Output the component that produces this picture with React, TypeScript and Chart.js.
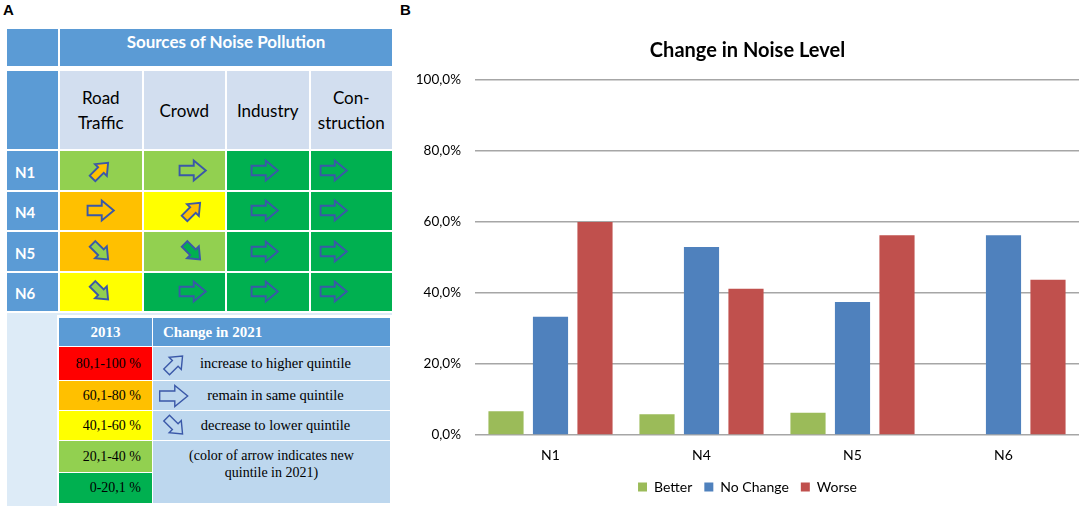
import React, { useEffect, useRef } from 'react';
import { Chart, registerables } from 'chart.js';

Chart.register(...registerables);

// ---------- Panel B data ----------
const categories = ['N1', 'N4', 'N5', 'N6'];
const seriesLabels = ['Better', 'No Change', 'Worse'];
const betterValues = [6.67, 5.88, 6.25, 0];
const noChangeValues = [33.33, 52.94, 37.5, 56.25];
const worseValues = [60.0, 41.18, 56.25, 43.75];
const yTickValues = [0, 20, 40, 60, 80, 100];
const chartTitle = 'Change in Noise Level';

// ---------- Panel A data ----------
const tableTitle = 'Sources of Noise Pollution';
const stationLabels = ['N1', 'N4', 'N5', 'N6'];
const sourceLabels = [['Road', 'Traffic'], ['Crowd'], ['Industry'], ['Con-', 'struction']];
// quintile 1 = 0-20,1 % ... 5 = 80,1-100 %
const quintile2013 = [
  [2, 2, 1, 1],
  [4, 3, 1, 1],
  [4, 2, 1, 1],
  [3, 1, 1, 1],
];
const quintile2021 = [
  [4, 2, 1, 1],
  [4, 4, 1, 1],
  [2, 1, 1, 1],
  [2, 1, 1, 1],
];
const changeDirection = [
  ['up', 'same', 'same', 'same'],
  ['same', 'up', 'same', 'same'],
  ['down', 'down', 'same', 'same'],
  ['down', 'same', 'same', 'same'],
];
const legendHeaders = ['2013', 'Change in 2021'];
const quintileRanges = ['80,1-100 %', '60,1-80 %', '40,1-60 %', '20,1-40 %', '0-20,1 %'];
const legendQuintiles = [5, 4, 3, 2, 1];
const changeDescriptions = ['increase to higher quintile', 'remain in same quintile', 'decrease to lower quintile'];
const changeKeys = ['up', 'same', 'down'];
const arrowNote = ['(color of arrow indicates new', 'quintile in 2021)'];

// ---------- styles ----------
const QUINTILE_COLORS: Record<number, string> = {
  1: '#00B050',
  2: '#92D050',
  3: '#FFFF00',
  4: '#FFC000',
  5: '#FF0000',
};
const HEADER_BLUE = '#5B9BD5';
const LIGHT_HEADER = '#D2DEEF';
const LEGEND_CELL = '#BDD7EE';
const LEGEND_BG = '#DDEBF7';
const ARROW_STROKE = '#3A58A8';
const SERIES_COLORS = ['#9BBB59', '#4F81BD', '#C0504D'];
const SANS = 'Lato, "Open Sans", sans-serif';
const SERIF = '"Liberation Serif", "DejaVu Serif", serif';
const ARROW_OFFSETS = [0, 8, -3, -18];

function Arrow({ dir, fill, scale, stroke }: { dir: string; fill: string; scale: number; stroke: number }) {
  const rot = dir === 'up' ? -45 : dir === 'down' ? 45 : 0;
  const w = 28 * scale;
  const h = 22 * scale;
  return (
    <svg width={w} height={h} viewBox="0 0 28 22" style={{ overflow: 'visible', display: 'block' }}>
      <path
        d="M1.5 6.5H15V1.5L26.5 11L15 20.5V15.5H1.5Z"
        transform={`rotate(${rot} 14 11)`}
        fill={fill}
        stroke={ARROW_STROKE}
        strokeWidth={stroke / scale}
        strokeLinejoin="miter"
      />
    </svg>
  );
}

function BarChart() {
  const ref = useRef<HTMLCanvasElement | null>(null);
  useEffect(() => {
    if (!ref.current) return;
    const values = [betterValues, noChangeValues, worseValues];
    const chart = new Chart(ref.current, {
      type: 'bar',
      data: {
        labels: categories,
        datasets: seriesLabels.map((label, i) => ({
          label,
          data: values[i],
          backgroundColor: SERIES_COLORS[i],
          borderWidth: 0,
          categoryPercentage: 0.884,
          barPercentage: 0.79,
        })),
      },
      options: {
        responsive: false,
        animation: false,
        devicePixelRatio: 1,
        layout: { padding: { left: 0, right: 5, top: 0, bottom: 8 } },
        plugins: {
          title: {
            display: true,
            text: chartTitle,
            color: '#000',
            font: { family: SANS, size: 20, weight: 'bold' },
            padding: { top: 39, bottom: 17 },
          },
          legend: {
            position: 'bottom',
            labels: {
              color: '#000',
              boxWidth: 9,
              boxHeight: 9,
              padding: 12,
              font: { family: SANS, size: 14 },
            },
          },
          tooltip: { enabled: false },
        },
        scales: {
          x: {
            grid: { display: false, drawTicks: false },
            border: { display: false },
            ticks: { color: '#000', font: { family: SANS, size: 14 }, padding: 12 },
            afterFit: (scale: any) => {
              scale.height = 33;
            },
          },
          y: {
            min: 0,
            max: 100,
            afterBuildTicks: (scale: any) => {
              scale.ticks = yTickValues.map((v) => ({ value: v }));
            },
            afterFit: (scale: any) => {
              scale.width = 59;
            },
            grid: { color: '#A6A6A6', lineWidth: 1.5, drawTicks: false },
            border: { display: false },
            ticks: {
              color: '#000',
              padding: 14,
              font: { family: SANS, size: 13.5 },
              callback: (v: any) => Number(v).toFixed(1).replace('.', ',') + '%',
            },
          },
        },
      },
    });
    return () => chart.destroy();
  }, []);
  return <canvas ref={ref} width={668} height={512} style={{ position: 'absolute', left: 416, top: 0 }} />;
}

function PanelA() {
  return (
    <>
      <div style={{ position: 'absolute', left: 3, top: 1, font: 'bold 15px "Liberation Sans", Arial, sans-serif' }}>A</div>
      <div style={{ position: 'absolute', left: 7, top: 29, width: 51, height: 37, background: HEADER_BLUE }} />
      <div
        style={{
          position: 'absolute',
          left: 60,
          top: 29,
          width: 332,
          height: 37,
          background: HEADER_BLUE,
          color: '#fff',
          font: `bold 17px ${SANS}`,
          textAlign: 'center',
          lineHeight: '26px',
        }}
      >
        {tableTitle}
      </div>
      <div
        style={{
          position: 'absolute',
          left: 7,
          top: 71,
          width: 385,
          display: 'grid',
          gridTemplateColumns: '51px repeat(4, 1fr)',
          gridTemplateRows: '78px repeat(4, 38.5px)',
          columnGap: 2,
          rowGap: 2,
        }}
      >
        <div style={{ background: HEADER_BLUE }} />
        {sourceLabels.map((lines, c) => (
          <div
            key={'h' + c}
            style={{
              background: LIGHT_HEADER,
              display: 'flex',
              flexDirection: 'column',
              alignItems: 'center',
              justifyContent: 'center',
              font: `17px ${SANS}`,
              lineHeight: '25px',
              color: '#000',
            }}
          >
            {lines.map((l, k) => (
              <div key={k}>{l}</div>
            ))}
          </div>
        ))}
        {stationLabels.map((st, r) => (
          <React.Fragment key={st}>
            <div
              style={{
                background: HEADER_BLUE,
                color: '#fff',
                font: `bold 15px ${SANS}`,
                display: 'flex',
                alignItems: 'center',
                paddingLeft: 8,
                paddingTop: 3,
              }}
            >
              {st}
            </div>
            {quintile2013[r].map((q, c) => (
              <div
                key={c}
                style={{
                  background: QUINTILE_COLORS[q],
                  display: 'flex',
                  alignItems: 'center',
                  justifyContent: 'center',
                }}
              >
                <div style={{ transform: `translateX(${ARROW_OFFSETS[c]}px)` }}>
                  <Arrow
                    dir={changeDirection[r][c]}
                    fill={QUINTILE_COLORS[quintile2021[r][c]]}
                    scale={changeDirection[r][c] === 'same' ? 1.05 : 0.88}
                    stroke={1.9}
                  />
                </div>
              </div>
            ))}
          </React.Fragment>
        ))}
      </div>

      {/* legend block */}
      <div style={{ position: 'absolute', left: 7, top: 313, width: 385, height: 193, background: LEGEND_BG }} />
      <div style={{ position: 'absolute', left: 57, top: 315, width: 335, height: 191, background: '#fff' }} />
      <div
        style={{
          position: 'absolute',
          left: 59,
          top: 318,
          width: 331,
          display: 'grid',
          gridTemplateColumns: '93px 237px',
          gridTemplateRows: '28px 33px 29px 29px 31px 30px',
          columnGap: 1,
          rowGap: 1,
          fontFamily: SERIF,
          fontSize: 14,
        }}
      >
        <div
          style={{
            background: HEADER_BLUE,
            color: '#fff',
            fontWeight: 'bold',
            fontSize: 15,
            display: 'flex',
            alignItems: 'center',
            justifyContent: 'center',
            gridRow: 1,
            gridColumn: 1,
          }}
        >
          {legendHeaders[0]}
        </div>
        <div
          style={{
            background: HEADER_BLUE,
            color: '#fff',
            fontWeight: 'bold',
            fontSize: 15,
            display: 'flex',
            alignItems: 'center',
            paddingLeft: 10,
            gridRow: 1,
            gridColumn: 2,
          }}
        >
          {legendHeaders[1]}
        </div>
        {quintileRanges.map((t, i) => (
          <div
            key={t}
            style={{
              background: QUINTILE_COLORS[legendQuintiles[i]],
              gridRow: i + 2,
              gridColumn: 1,
              display: 'flex',
              alignItems: 'center',
              justifyContent: 'flex-end',
              paddingRight: 11,
              color: '#000',
            }}
          >
            {t}
          </div>
        ))}
        {changeDescriptions.map((t, i) => (
          <div
            key={t}
            style={{
              background: LEGEND_CELL,
              gridRow: i + 2,
              gridColumn: 2,
              position: 'relative',
              display: 'flex',
              alignItems: 'center',
              justifyContent: 'center',
              color: '#000',
              fontSize: 14.5,
            }}
          >
            <div
              style={{
                position: 'absolute',
                left: changeKeys[i] === 'same' ? 5 : 9,
                top: '50%',
                transform: 'translateY(-50%)',
              }}
            >
              <Arrow dir={changeKeys[i]} fill="none" scale={changeKeys[i] === 'same' ? 1.12 : 0.9} stroke={1.4} />
            </div>
            <span style={{ paddingLeft: 8 }}>{t}</span>
          </div>
        ))}
        <div
          style={{
            background: LEGEND_CELL,
            gridRow: '5 / span 2',
            gridColumn: 2,
            display: 'flex',
            flexDirection: 'column',
            alignItems: 'center',
            paddingTop: 6,
            lineHeight: '17px',
            color: '#000',
          }}
        >
          {arrowNote.map((l) => (
            <div key={l}>{l}</div>
          ))}
        </div>
      </div>
    </>
  );
}

export default function App() {
  return (
    <div style={{ position: 'absolute', left: 0, top: 0, width: 1084, height: 512, background: '#fff', overflow: 'hidden' }}>
      <PanelA />
      <div style={{ position: 'absolute', left: 400, top: 1, font: 'bold 15px "Liberation Sans", Arial, sans-serif' }}>B</div>
      <BarChart />
    </div>
  );
}
